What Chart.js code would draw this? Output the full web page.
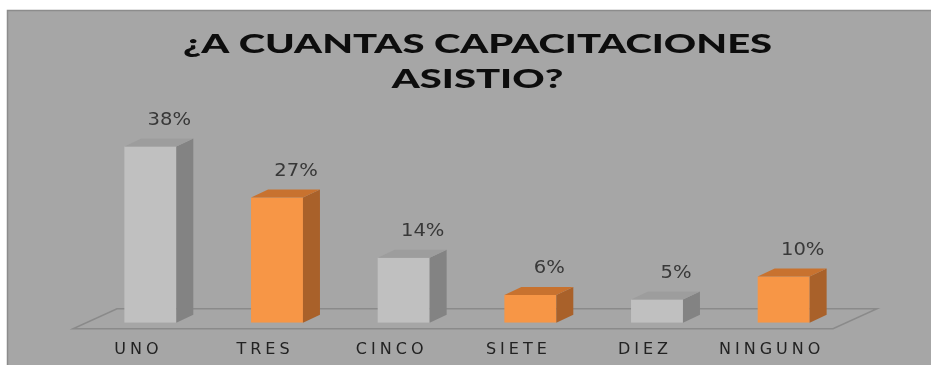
<!DOCTYPE html>
<html>
<head>
<meta charset="utf-8">
<script src="https://cdn.jsdelivr.net/npm/chart.js@4"></script>
<style>
  html, body { margin: 0; padding: 0; background: #fff; }
  canvas { display: block; }
</style>
</head>
<body>
<canvas id="capChart" width="931" height="365"></canvas>
<script>
const categories = ['UNO', 'TRES', 'CINCO', 'SIETE', 'DIEZ', 'NINGUNO'];
const percentages = [38, 27, 14, 6, 5, 10];
const titleLines = ['¿A CUANTAS CAPACITACIONES', 'ASISTIO?'];

// gray / orange alternate from bar to bar
const frontColors = ['#c0c0c0', '#f79646'];
const sideColors = ['#838383', '#a9612a'];
const topColors = ['#9d9d9d', '#c8722f'];
const DEPTH_X = 17;
const DEPTH_Y = 8;
const TITLE_STRETCH = 1.48;
const VALUE_STRETCH = 1.15;

const panel = {
  id: 'panel',
  beforeDraw(chart) {
    const { ctx, width, height } = chart;
    ctx.save();
    ctx.fillStyle = '#ffffff';
    ctx.fillRect(0, 0, width, height);
    ctx.fillStyle = '#a6a6a6';
    ctx.fillRect(7, 10, width - 7, height - 10);
    ctx.strokeStyle = '#8c8c8c';
    ctx.lineWidth = 1.5;
    ctx.beginPath();
    ctx.moveTo(7.5, height);
    ctx.lineTo(7.5, 10.5);
    ctx.lineTo(width, 10.5);
    ctx.stroke();
    ctx.restore();
    // widen the title glyphs around the title's centre line
    const t = chart.titleBlock;
    const cx = (t.left + t.right) / 2;
    ctx.letterSpacing = '0px';
    ctx.setTransform(TITLE_STRETCH, 0, 0, 1, cx * (1 - TITLE_STRETCH), 0);
  },
  beforeDatasetsDraw(chart) {
    const { ctx, chartArea } = chart;
    ctx.setTransform(1, 0, 0, 1, 0, 0);
    const y0 = chart.scales.y.getPixelForValue(0);
    const front = y0 + 6;
    const back = y0 - 14;
    ctx.save();
    ctx.strokeStyle = '#8a8a8a';
    ctx.lineWidth = 1.5;
    ctx.beginPath();
    ctx.moveTo(chartArea.left - 14, front);
    ctx.lineTo(chartArea.right - 14, front);
    ctx.lineTo(chartArea.right + 30, back);
    ctx.lineTo(chartArea.left + 30, back);
    ctx.closePath();
    ctx.stroke();
    ctx.restore();
  },
  afterDatasetsDraw(chart) {
    const { ctx } = chart;
    const meta = chart.getDatasetMeta(0);
    ctx.save();
    meta.data.forEach((bar, i) => {
      const half = bar.width / 2;
      const left = bar.x - half;
      const right = bar.x + half;
      const top = bar.y;
      const base = bar.base;
      // side face
      ctx.fillStyle = sideColors[i % 2];
      ctx.beginPath();
      ctx.moveTo(right, top);
      ctx.lineTo(right + DEPTH_X, top - DEPTH_Y);
      ctx.lineTo(right + DEPTH_X, base - DEPTH_Y);
      ctx.lineTo(right, base);
      ctx.closePath();
      ctx.fill();
      // top face
      ctx.fillStyle = topColors[i % 2];
      ctx.beginPath();
      ctx.moveTo(left, top);
      ctx.lineTo(left + DEPTH_X, top - DEPTH_Y);
      ctx.lineTo(right + DEPTH_X, top - DEPTH_Y);
      ctx.lineTo(right, top);
      ctx.closePath();
      ctx.fill();
      // value label
      ctx.save();
      ctx.translate(bar.x + 19, top - DEPTH_Y - 18);
      ctx.scale(VALUE_STRETCH, 1);
      ctx.fillStyle = '#383838';
      ctx.font = '17px "DejaVu Sans"';
      ctx.textAlign = 'center';
      ctx.textBaseline = 'middle';
      ctx.fillText(percentages[i] + '%', 0, 0);
      ctx.restore();
    });
    ctx.restore();
    // category labels (x ticks are drawn after this) are spaced out
    ctx.letterSpacing = '4px';
  },
  afterDraw(chart) {
    chart.ctx.letterSpacing = '0px';
  }
};

const hiddenAxis = (width, position) => ({
  display: true,
  position,
  ticks: { display: false },
  grid: { display: false, drawTicks: false },
  border: { display: false },
  afterFit(scale) { scale.width = width; }
});

new Chart(document.getElementById('capChart'), {
  type: 'bar',
  data: {
    labels: categories,
    datasets: [{
      data: percentages,
      backgroundColor: categories.map((_, i) => frontColors[i % 2]),
      borderWidth: 0,
      barPercentage: 0.41,
      categoryPercentage: 1,
    }],
  },
  options: {
    responsive: false,
    animation: false,
    events: [],
    layout: { padding: { left: 24, right: 0, top: 0, bottom: -11 } },
    plugins: {
      legend: { display: false },
      tooltip: { enabled: false },
      title: {
        display: true,
        text: titleLines,
        color: '#0d0d0d',
        font: { family: 'Lato', weight: '900', size: 27, lineHeight: '35px' },
        padding: { top: 27, bottom: 17 },
      },
    },
    scales: {
      x: {
        offset: true,
        grid: { display: false, drawTicks: false },
        border: { display: false },
        ticks: {
          z: 1,
          color: '#222222',
          font: { family: 'DejaVu Sans', size: 16 },
          padding: 17,
          labelOffset: -12,
          maxRotation: 0,
          autoSkip: false,
        },
      },
      y: Object.assign(hiddenAxis(63, 'left'), { min: 0, max: 45 }),
      yRight: hiddenAxis(84, 'right'),
    },
  },
  plugins: [panel],
});
</script>
</body>
</html>
